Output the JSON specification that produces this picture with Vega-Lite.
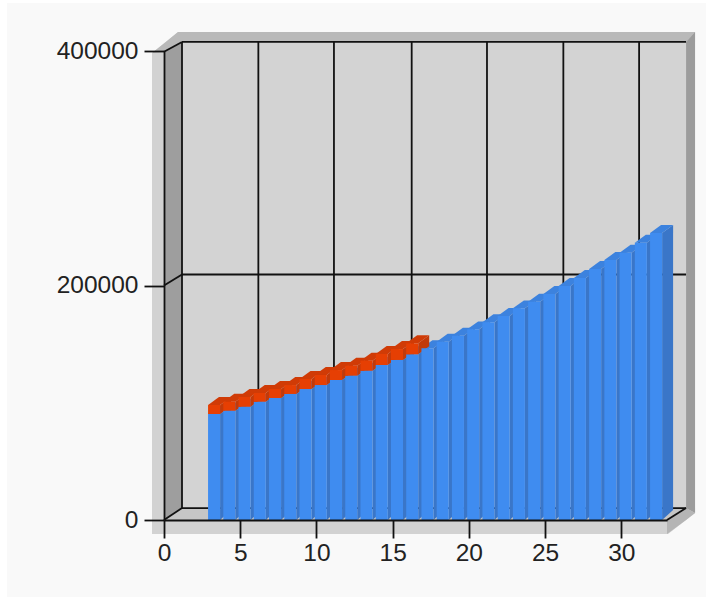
{
  "$schema": "https://vega.github.io/schema/vega-lite/v6.json",
  "autosize": "none",
  "width": 503,
  "height": 469,
  "padding": {"left": 164, "top": 51, "right": 46, "bottom": 77},
  "background": "#ffffff",
  "config": {"view": {"stroke": null}},
  "datasets": {
    "panel": [{"x": -10.3, "x2": 35.56, "y": 441000, "y2": -65700}],
    "frame": [
      {"part": "shell", "x": -0.787, "y": 398300, "y2": -11900},
      {"part": "shell", "x": 0.919, "y": 416200, "y2": -11900},
      {"part": "shell", "x": 33.07, "y": 416200, "y2": -11900},
      {"part": "shell", "x": 34.84, "y": 416200, "y2": 6000},
      {"part": "topband", "x": -0.787, "y": 398300, "y2": 398300},
      {"part": "topband", "x": 0, "y": 406400, "y2": 399400},
      {"part": "topband", "x": 0.919, "y": 416200, "y2": 405900},
      {"part": "topband", "x": 1.181, "y": 416200, "y2": 407700},
      {"part": "topband", "x": 34.25, "y": 416200, "y2": 407700},
      {"part": "topband", "x": 34.84, "y": 416200, "y2": 416200},
      {"part": "rightband", "x": 34.25, "y": 407700, "y2": 10200},
      {"part": "rightband", "x": 34.84, "y": 416200, "y2": 6000},
      {"part": "corner", "x": 33, "y": 0, "y2": -11900},
      {"part": "corner", "x": 34.25, "y": 10200, "y2": 0},
      {"part": "corner", "x": 34.84, "y": 6000, "y2": 6000},
      {"part": "backwall", "x": 1.181, "y": 407700, "y2": 10200},
      {"part": "backwall", "x": 34.25, "y": 407700, "y2": 10200},
      {"part": "leftwall", "x": 0, "y": 399400, "y2": 0},
      {"part": "leftwall", "x": 1.181, "y": 407700, "y2": 10200},
      {"part": "floor", "x": 0, "y": 0, "y2": 0},
      {"part": "floor", "x": 1.181, "y": 10200, "y2": 0},
      {"part": "floor", "x": 33, "y": 10200, "y2": 0},
      {"part": "floor", "x": 34.25, "y": 10200, "y2": 10200}
    ],
    "gridlines": [
      {"x": 6.19, "x2": 6.19, "y": 407700, "y2": 10200},
      {"x": 11.15, "x2": 11.15, "y": 407700, "y2": 10200},
      {"x": 16.25, "x2": 16.25, "y": 407700, "y2": 10200},
      {"x": 21.19, "x2": 21.19, "y": 407700, "y2": 10200},
      {"x": 26.2, "x2": 26.2, "y": 407700, "y2": 10200},
      {"x": 31.17, "x2": 31.17, "y": 407700, "y2": 10200},
      {"x": 1.181, "x2": 34.25, "y": 407700, "y2": 407700},
      {"x": 1.181, "x2": 34.25, "y": 209400, "y2": 209400},
      {"x": 1.181, "x2": 34.25, "y": 10200, "y2": 10200},
      {"x": 1.181, "x2": 1.181, "y": 407700, "y2": 10200},
      {"x": 0, "x2": 1.181, "y": 399400, "y2": 407700},
      {"x": 0, "x2": 1.181, "y": 200000, "y2": 209400},
      {"x": 0, "x2": 1.181, "y": 0, "y2": 10200},
      {"x": 33, "x2": 34.25, "y": 0, "y2": 10200}
    ],
    "bars": [
      {"n": 3, "blue": 90400, "red": 7700},
      {"n": 4, "blue": 93200, "red": 7700},
      {"n": 5, "blue": 96600, "red": 8300},
      {"n": 6, "blue": 100900, "red": 7400},
      {"n": 7, "blue": 104000, "red": 7700},
      {"n": 8, "blue": 107500, "red": 7600},
      {"n": 9, "blue": 111700, "red": 8600},
      {"n": 10, "blue": 115100, "red": 8600},
      {"n": 11, "blue": 119400, "red": 8500},
      {"n": 12, "blue": 123100, "red": 8500},
      {"n": 13, "blue": 127300, "red": 8600},
      {"n": 14, "blue": 132200, "red": 9400},
      {"n": 15, "blue": 136500, "red": 9300},
      {"n": 16, "blue": 141300, "red": 9400},
      {"n": 17, "blue": 146400, "red": 0},
      {"n": 18, "blue": 152100, "red": 0},
      {"n": 19, "blue": 157200, "red": 0},
      {"n": 20, "blue": 162600, "red": 0},
      {"n": 21, "blue": 168600, "red": 0},
      {"n": 22, "blue": 174000, "red": 0},
      {"n": 23, "blue": 180500, "red": 0},
      {"n": 24, "blue": 186200, "red": 0},
      {"n": 25, "blue": 192700, "red": 0},
      {"n": 26, "blue": 199600, "red": 0},
      {"n": 27, "blue": 206400, "red": 0},
      {"n": 28, "blue": 214000, "red": 0},
      {"n": 29, "blue": 221700, "red": 0},
      {"n": 30, "blue": 228000, "red": 0},
      {"n": 31, "blue": 236500, "red": 0},
      {"n": 32, "blue": 244800, "red": 0}
    ]
  },
  "layer": [
    {
      "data": {"name": "panel"},
      "mark": {"type": "rect", "color": "#f9f9f9"},
      "encoding": {
        "x": {"field": "x", "type": "quantitative", "scale": {"domain": [0, 33], "nice": false, "zero": false}, "axis": {"title": null, "values": [0, 5, 10, 15, 20, 25, 30], "grid": false, "zindex": 1, "domainColor": "#111111", "domainWidth": 1.8, "tickColor": "#111111", "tickWidth": 1.8, "tickSize": 18, "labelFont": "Liberation Sans", "labelFontSize": 24.5, "labelColor": "#222222", "labelPadding": 3, "labelFlush": false, "labelOverlap": false}},
        "x2": {"field": "x2"},
        "y": {"field": "y", "type": "quantitative", "scale": {"domain": [0, 400000], "nice": false, "zero": false}, "axis": {"title": null, "values": [0, 200000, 400000], "format": "d", "grid": false, "zindex": 1, "domainColor": "#111111", "domainWidth": 1.8, "tickColor": "#111111", "tickWidth": 1.8, "tickSize": 20, "labelFont": "Liberation Sans", "labelFontSize": 24.5, "labelColor": "#222222", "labelPadding": 6, "labelFlush": false, "labelOverlap": false}},
        "y2": {"field": "y2"}
      }
    },
    {
      "data": {"name": "frame"},
      "mark": {"type": "area"},
      "encoding": {
        "x": {"field": "x", "type": "quantitative", "axis": {"title": null}},
        "y": {"field": "y", "type": "quantitative", "axis": {"title": null}, "stack": null},
        "y2": {"field": "y2"},
        "color": {"field": "part", "type": "nominal", "legend": null, "scale": {"domain": ["shell", "topband", "rightband", "corner", "backwall", "leftwall", "floor"], "range": ["#d2d2d2", "#b9b9b9", "#9c9c9c", "#b5b5b5", "#d3d3d3", "#9e9e9e", "#c6c6c6"]}}
      }
    },
    {
      "data": {"name": "gridlines"},
      "mark": {"type": "rule", "color": "#111111", "strokeWidth": 1.8},
      "encoding": {
        "x": {"field": "x", "type": "quantitative", "axis": {"title": null}},
        "x2": {"field": "x2"},
        "y": {"field": "y", "type": "quantitative", "axis": {"title": null}},
        "y2": {"field": "y2"}
      }
    },
    {
      "data": {"name": "bars"},
      "transform": [
        {"calculate": "[0, 1]", "as": "k"},
        {"flatten": ["k"]},
        {"calculate": "datum.n + 0.68 + 0.72 * datum.k", "as": "sx"},
        {"calculate": "datum.blue + 6800 * datum.k", "as": "st"},
        {"calculate": "8500 * datum.k", "as": "sb"}
      ],
      "mark": {"type": "area", "color": "#3a76c8"},
      "encoding": {
        "x": {"field": "sx", "type": "quantitative", "axis": {"title": null}},
        "y": {"field": "st", "type": "quantitative", "axis": {"title": null}, "stack": null},
        "y2": {"field": "sb"},
        "detail": {"field": "n"}
      }
    },
    {
      "data": {"name": "bars"},
      "transform": [
        {"calculate": "[0, 1]", "as": "k"},
        {"flatten": ["k"]},
        {"calculate": "datum.n - 0.11 + 0.72 * datum.k", "as": "tl"},
        {"calculate": "datum.n + 0.68 + 0.72 * datum.k", "as": "tr"},
        {"calculate": "datum.blue + 6800 * datum.k", "as": "ty"}
      ],
      "mark": {"type": "area", "color": "#3c82de", "orient": "horizontal"},
      "encoding": {
        "y": {"field": "ty", "type": "quantitative", "axis": {"title": null}},
        "x": {"field": "tl", "type": "quantitative", "axis": {"title": null}, "stack": null},
        "x2": {"field": "tr"},
        "detail": {"field": "n"}
      }
    },
    {
      "data": {"name": "bars"},
      "transform": [
        {"filter": "datum.red > 0"},
        {"calculate": "[0, 1]", "as": "k"},
        {"flatten": ["k"]},
        {"calculate": "datum.n + 0.68 + 0.72 * datum.k", "as": "sx"},
        {"calculate": "datum.blue + datum.red + 6800 * datum.k", "as": "st"},
        {"calculate": "datum.blue + 6800 * datum.k", "as": "sb"}
      ],
      "mark": {"type": "area", "color": "#c23a0a"},
      "encoding": {
        "x": {"field": "sx", "type": "quantitative", "axis": {"title": null}},
        "y": {"field": "st", "type": "quantitative", "axis": {"title": null}, "stack": null},
        "y2": {"field": "sb"},
        "detail": {"field": "n"}
      }
    },
    {
      "data": {"name": "bars"},
      "transform": [
        {"filter": "datum.red > 0"},
        {"calculate": "[0, 1]", "as": "k"},
        {"flatten": ["k"]},
        {"calculate": "datum.n - 0.11 + 0.72 * datum.k", "as": "tl"},
        {"calculate": "datum.n + 0.68 + 0.72 * datum.k", "as": "tr"},
        {"calculate": "datum.blue + datum.red + 6800 * datum.k", "as": "ty"}
      ],
      "mark": {"type": "area", "color": "#d03b06", "orient": "horizontal"},
      "encoding": {
        "y": {"field": "ty", "type": "quantitative", "axis": {"title": null}},
        "x": {"field": "tl", "type": "quantitative", "axis": {"title": null}, "stack": null},
        "x2": {"field": "tr"},
        "detail": {"field": "n"}
      }
    },
    {
      "data": {"name": "bars"},
      "transform": [
        {"calculate": "datum.n - 0.11", "as": "xl"},
        {"calculate": "datum.n + 0.68", "as": "xr"},
        {"calculate": "0", "as": "base"}
      ],
      "mark": {"type": "rect", "color": "#3f8cf0"},
      "encoding": {
        "x": {"field": "xl", "type": "quantitative", "axis": {"title": null}},
        "x2": {"field": "xr"},
        "y": {"field": "blue", "type": "quantitative", "axis": {"title": null}},
        "y2": {"field": "base"}
      }
    },
    {
      "data": {"name": "bars"},
      "transform": [
        {"filter": "datum.red > 0"},
        {"calculate": "datum.n - 0.11", "as": "xl"},
        {"calculate": "datum.n + 0.68", "as": "xr"},
        {"calculate": "datum.blue + datum.red", "as": "total"}
      ],
      "mark": {"type": "rect", "color": "#e63f03"},
      "encoding": {
        "x": {"field": "xl", "type": "quantitative", "axis": {"title": null}},
        "x2": {"field": "xr"},
        "y": {"field": "total", "type": "quantitative", "axis": {"title": null}},
        "y2": {"field": "blue"}
      }
    }
  ]
}
